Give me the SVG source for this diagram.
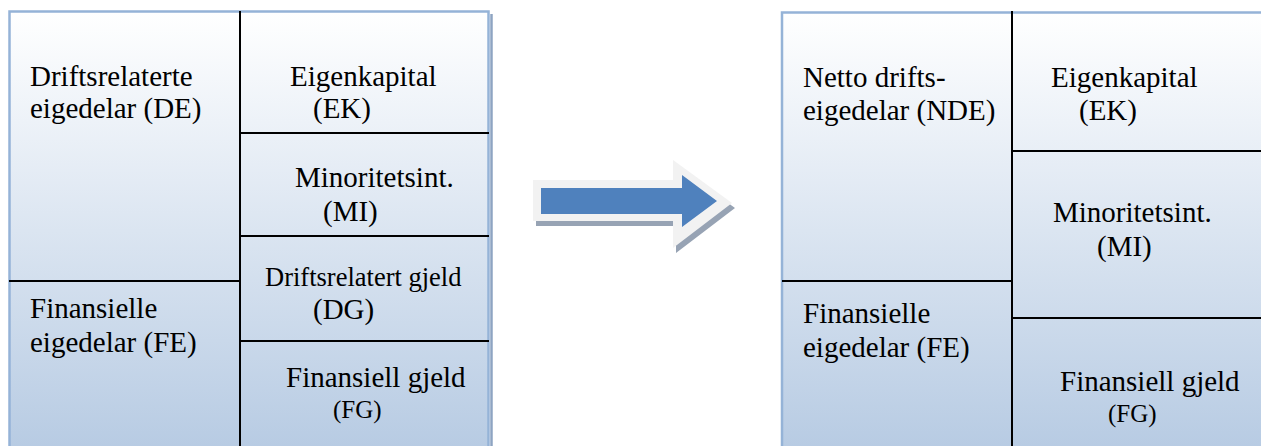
<svg xmlns="http://www.w3.org/2000/svg" width="1261" height="446" viewBox="0 0 1261 446">
  <defs>
    <linearGradient id="fill" gradientUnits="userSpaceOnUse" x1="0" y1="12" x2="0" y2="450">
      <stop offset="0" stop-color="#FFFFFF"/>
      <stop offset="1" stop-color="#B7CBE3"/>
    </linearGradient>
    <style>
      .panel { fill: url(#fill); stroke: #95B3D7; stroke-width: 2.5; }
      .shadow { fill: none; stroke: #8EA4C2; stroke-width: 2.5; }
      .div { stroke: #000; stroke-width: 2; fill: none; }
      .lbl { font-family: "Liberation Serif", "Times New Roman", serif; font-size: 29px; fill: #000; }
      .sm { font-size: 26.5px; }
      .xs { font-size: 25px; }
    </style>
  </defs>

  <rect width="1261" height="446" fill="#FFFFFF"/>

  <!-- balance before: left panel -->
  <g id="panel-left">
    <line class="shadow" x1="491.5" y1="14" x2="491.5" y2="450"/>
    <rect class="panel" x="9.5" y="11.5" width="479" height="450"/>
  </g>

  <!-- balance after: right panel -->
  <g id="panel-right">
    <rect class="panel" x="782" y="12.5" width="490" height="450"/>
  </g>

  <!-- cell dividers -->
  <g id="connectors">
    <line class="div" x1="240" y1="11" x2="240" y2="446"/>
    <line class="div" x1="9" y1="281" x2="240" y2="281"/>
    <line class="div" x1="240" y1="133" x2="489" y2="133"/>
    <line class="div" x1="240" y1="236" x2="489" y2="236"/>
    <line class="div" x1="240" y1="341" x2="489" y2="341"/>

    <line class="div" x1="1012" y1="11" x2="1012" y2="446"/>
    <line class="div" x1="782" y1="281" x2="1012" y2="281"/>
    <line class="div" x1="1012" y1="151" x2="1261" y2="151"/>
    <line class="div" x1="1012" y1="318" x2="1261" y2="318"/>
  </g>

  <!-- left panel labels -->
  <g id="de">
    <text class="lbl" x="30" y="86">Driftsrelaterte</text>
    <text class="lbl" x="30" y="118">eigedelar (DE)</text>
  </g>
  <g id="fe-left">
    <text class="lbl" x="30" y="318">Finansielle</text>
    <text class="lbl" x="30" y="352">eigedelar (FE)</text>
  </g>
  <g id="ek-left">
    <text class="lbl" x="290" y="86">Eigenkapital</text>
    <text class="lbl" x="313" y="118">(EK)</text>
  </g>
  <g id="mi-left">
    <text class="lbl" x="295" y="187">Minoritetsint.</text>
    <text class="lbl" x="323" y="221">(MI)</text>
  </g>
  <g id="dg">
    <text class="lbl sm" x="265" y="286">Driftsrelatert gjeld</text>
    <text class="lbl" x="313" y="319">(DG)</text>
  </g>
  <g id="fg-left">
    <text class="lbl" x="286" y="387">Finansiell gjeld</text>
    <text class="lbl xs" x="333" y="418">(FG)</text>
  </g>

  <!-- transformation arrow: drop shadow, light rim, blue body -->
  <g id="arrow">
    <path d="M533 180 H673 V160 L732 203 L673 248 V221 H533 Z" fill="#97A3B4" transform="translate(3 5)"/>
    <path d="M533 180 H673 V160 L732 203 L673 248 V221 H533 Z" fill="#F2F2F2"/>
    <path d="M541 188 H682 V175 L717 201 L682 227 V214 H541 Z" fill="#4F81BD"/>
  </g>

  <!-- right panel labels -->
  <g id="nde">
    <text class="lbl" x="803" y="87">Netto drifts-</text>
    <text class="lbl" x="803" y="120">eigedelar (NDE)</text>
  </g>
  <g id="fe-right">
    <text class="lbl" x="803" y="323">Finansielle</text>
    <text class="lbl" x="803" y="357">eigedelar (FE)</text>
  </g>
  <g id="ek-right">
    <text class="lbl" x="1051" y="87">Eigenkapital</text>
    <text class="lbl" x="1079" y="120">(EK)</text>
  </g>
  <g id="mi-right">
    <text class="lbl" x="1053" y="222">Minoritetsint.</text>
    <text class="lbl" x="1097" y="256">(MI)</text>
  </g>
  <g id="fg-right">
    <text class="lbl" x="1060" y="391">Finansiell gjeld</text>
    <text class="lbl xs" x="1108" y="422">(FG)</text>
  </g>
</svg>
